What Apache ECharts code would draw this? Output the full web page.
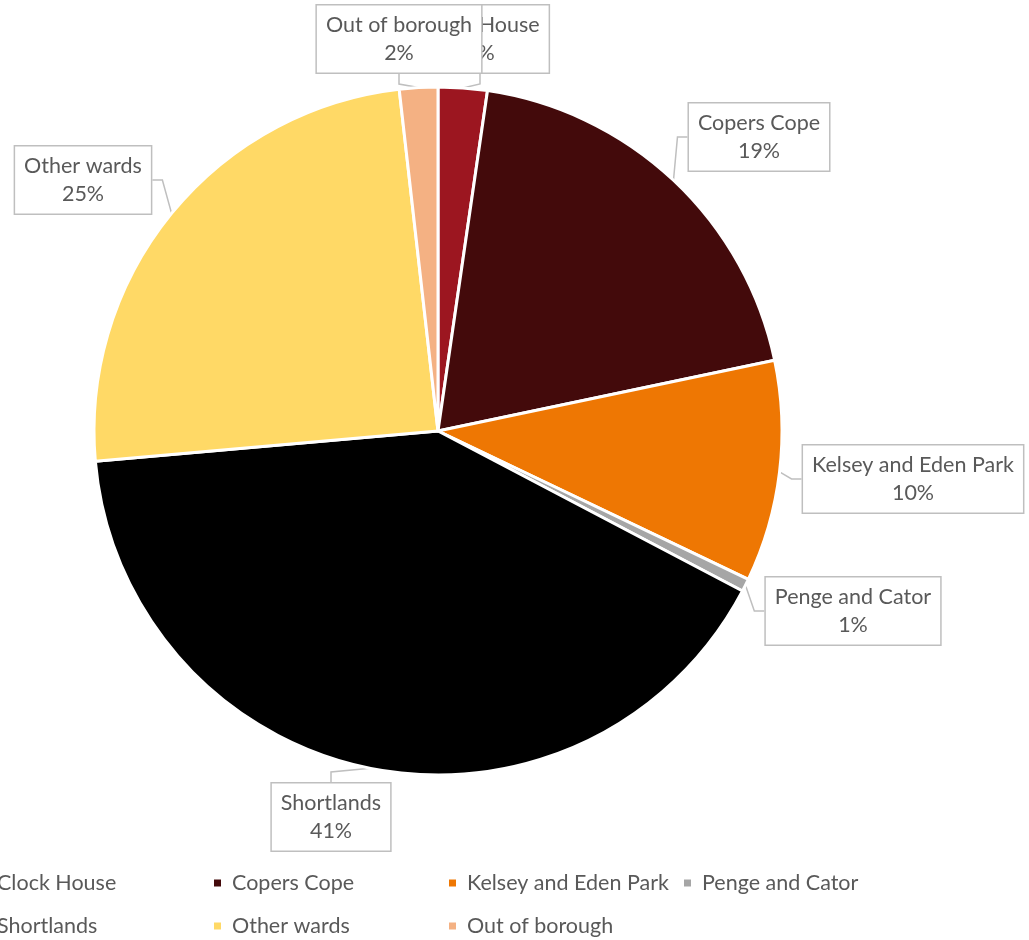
<!DOCTYPE html>
<html>
<head>
<meta charset="utf-8">
<title>Wards</title>
<script src="https://cdn.jsdelivr.net/npm/echarts@6/dist/echarts.min.js"></script>
<style>
  html, body { margin: 0; padding: 0; background: #ffffff; }
  #chart { width: 1029px; height: 940px; }
</style>
</head>
<body>
<div id="chart"></div>
<script>
// Share of records by ward (percent)
const wards = ['Clock House', 'Copers Cope', 'Kelsey and Eden Park', 'Penge and Cator', 'Shortlands', 'Other wards', 'Out of borough'];
const shares = [2.3, 19.4, 10.4, 0.6, 40.9, 24.6, 1.8];
const colors = ['#9c1620', '#430a0b', '#ee7703', '#a6a6a6', '#000000', '#ffd966', '#f4b183'];

// Callout box centres (px) for each slice label
const labelSpots = [[480, 39], [759, 137], [913, 479], [853, 611], [331, 817], [83, 180], [399, 39]];

const textColor = '#595959';
const fontFamily = 'Lato, "Noto Sans", sans-serif';

const chart = echarts.init(document.getElementById('chart'), null, { renderer: 'canvas' });

chart.setOption({
  animation: false,
  color: colors,
  legend: {
    data: wards,
    orient: 'horizontal',
    left: -28,
    top: 859,
    width: 960,
    itemWidth: 9,
    itemHeight: 9,
    itemGap: 5,
    icon: 'rect',
    textStyle: {
      color: textColor,
      fontSize: 21.5,
      fontFamily: fontFamily,
      width: 210,
      lineHeight: 38,
      padding: [0, 0, 0, 5]
    }
  },
  series: [{
    type: 'pie',
    center: [438, 431],
    radius: 344,
    startAngle: 90,
    clockwise: true,
    avoidLabelOverlap: false,
    itemStyle: { borderColor: '#ffffff', borderWidth: 3 },
    label: {
      show: true,
      position: 'outside',
      formatter: p => p.name + '\n' + Math.round(p.percent) + '%',
      color: textColor,
      fontSize: 21.5,
      fontFamily: fontFamily,
      lineHeight: 28,
      align: 'center',
      backgroundColor: '#ffffff',
      borderColor: '#bfbfbf',
      borderWidth: 1.5,
      padding: [6, 9, 5, 9]
    },
    labelLine: {
      show: true,
      length: 10,
      length2: 10,
      lineStyle: { color: '#bfbfbf', width: 1.5 }
    },
    labelLayout: function (params) {
      const spot = labelSpots[params.dataIndex];
      return { x: spot[0], y: spot[1], align: 'center', verticalAlign: 'middle', hideOverlap: false };
    },
    emphasis: { disabled: true },
    data: wards.map((name, i) => ({ name: name, value: shares[i] }))
  }]
});
</script>
</body>
</html>
